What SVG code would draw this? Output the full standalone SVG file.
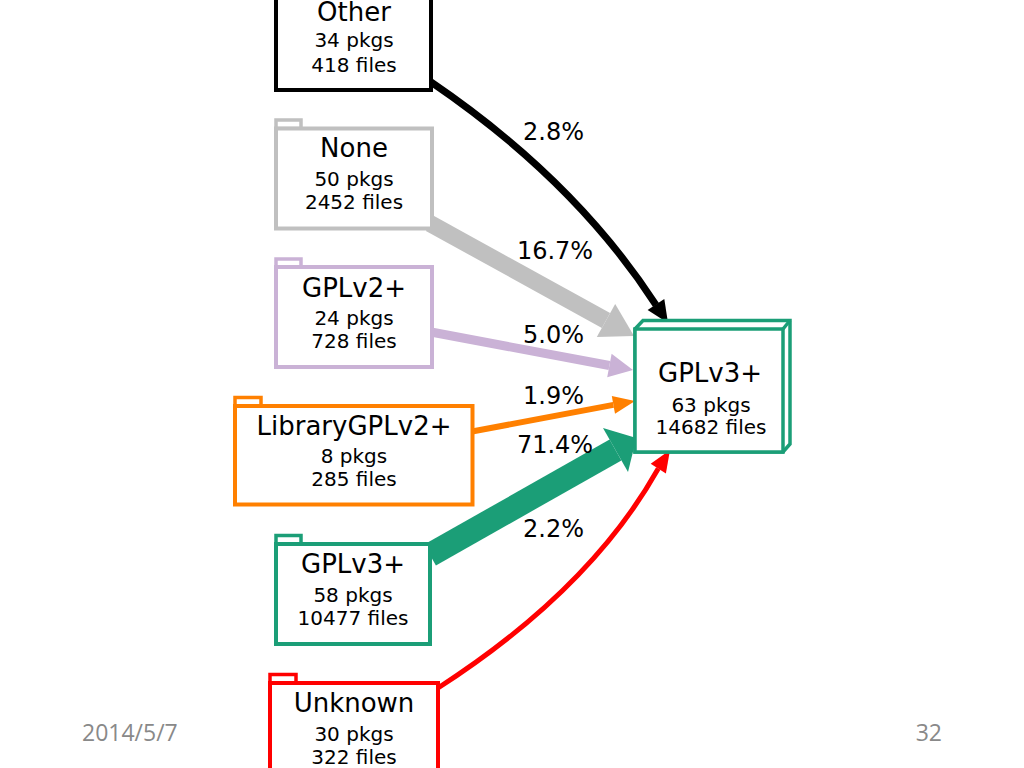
<svg xmlns="http://www.w3.org/2000/svg" width="1024" height="768" viewBox="0 0 1024 768">
<style>
  .box { fill: #ffffff; stroke-width: 4; }
  .tab { fill: #ffffff; stroke-width: 3.5; }
  .t1 { font-family: "DejaVu Sans", sans-serif; font-size: 26px; fill: #000; text-anchor: middle; }
  .t2 { font-family: "DejaVu Sans", sans-serif; font-size: 20px; fill: #000; text-anchor: middle; }
  .lbl { font-family: "DejaVu Sans", sans-serif; font-size: 24px; fill: #000; text-anchor: middle; }
  .foot { font-family: "Open Sans", "Liberation Sans", sans-serif; font-size: 23px; fill: #898989; }
  .e { fill: none; }
  .black { stroke: #000000; }
  .gray { stroke: #c0c0c0; }
  .lilac { stroke: #cab2d6; }
  .orange { stroke: #ff8000; }
  .green { stroke: #1b9e77; }
  .red { stroke: #ff0000; }
  .hblack { fill: #000000; }
  .hgray { fill: #c0c0c0; }
  .hlilac { fill: #cab2d6; }
  .horange { fill: #ff8000; }
  .hgreen { fill: #1b9e77; }
  .hred { fill: #ff0000; }
</style>
<rect width="1024" height="768" fill="#ffffff"/>

<g id="connectors">
  <path class="e black" stroke-width="7" d="M431,82 Q575,180 656,305"/>
  <polygon class="hblack" points="668,323 664.3,299.1 647.6,310.1"/>

  <path class="e gray" stroke-width="17" d="M430,223.5 L606,320.5"/>
  <polygon class="hgray" points="634,336 615.2,303.9 596.8,337.1"/>

  <path class="e lilac" stroke-width="9" d="M431,332 L609.4,365.5"/>
  <polygon class="hlilac" points="633,370 611.6,353.7 607.2,377.3"/>

  <path class="e orange" stroke-width="6" d="M472,431.5 L613.4,404.9"/>
  <polygon class="horange" points="635,401 615,413.8 611.8,396"/>

  <path class="e green" stroke-width="24" d="M430,555 L615.5,450"/>
  <polygon class="hgreen" points="636.4,438.1 603,428 628,472"/>

  <path class="e red" stroke-width="5" d="M438,688 Q590,590 658.3,468.6"/>
  <polygon class="hred" points="670,450 665.9,473.4 650.7,463.8"/>

  <text class="lbl" x="553.5" y="140">2.8%</text>
  <text class="lbl" x="555" y="259">16.7%</text>
  <text class="lbl" x="553.5" y="343">5.0%</text>
  <text class="lbl" x="553.5" y="404">1.9%</text>
  <text class="lbl" x="555" y="453">71.4%</text>
  <text class="lbl" x="553.5" y="537">2.2%</text>
</g>

<g id="node-other">
  <rect class="box" stroke="#000000" x="276" y="-10" width="155" height="100"/>
  <text class="t1" x="354" y="21">Other</text>
  <text class="t2" x="354" y="46.5">34 pkgs</text>
  <text class="t2" x="354" y="71.5">418 files</text>
</g>

<g id="node-none">
  <rect class="tab" stroke="#c0c0c0" x="276" y="120" width="25" height="8.5"/>
  <rect class="box" stroke="#c0c0c0" x="276" y="128.5" width="156" height="100"/>
  <text class="t1" x="354" y="157">None</text>
  <text class="t2" x="354" y="186">50 pkgs</text>
  <text class="t2" x="354" y="209">2452 files</text>
</g>

<g id="node-gplv2plus">
  <rect class="tab" stroke="#cab2d6" x="276" y="259" width="25" height="8"/>
  <rect class="box" stroke="#cab2d6" x="276" y="267" width="156" height="100"/>
  <text class="t1" x="354" y="297">GPLv2+</text>
  <text class="t2" x="354" y="325">24 pkgs</text>
  <text class="t2" x="354" y="347.5">728 files</text>
</g>

<g id="node-librarygplv2plus">
  <rect class="tab" stroke="#ff8000" x="235" y="397.5" width="26" height="8.5"/>
  <rect class="box" stroke="#ff8000" x="235" y="406" width="237.5" height="98.5"/>
  <text class="t1" x="354" y="435">LibraryGPLv2+</text>
  <text class="t2" x="354" y="462.5">8 pkgs</text>
  <text class="t2" x="354" y="486">285 files</text>
</g>

<g id="node-gplv3plus-src">
  <rect class="tab" stroke="#1b9e77" x="276" y="535.5" width="25" height="8.5"/>
  <rect class="box" stroke="#1b9e77" x="276" y="544" width="154" height="100"/>
  <text class="t1" x="353" y="573">GPLv3+</text>
  <text class="t2" x="353" y="602">58 pkgs</text>
  <text class="t2" x="353" y="625">10477 files</text>
</g>

<g id="node-unknown">
  <rect class="tab" stroke="#ff0000" x="270" y="674.5" width="26" height="8.5"/>
  <rect class="box" stroke="#ff0000" x="270" y="683" width="168" height="100"/>
  <text class="t1" x="354" y="712">Unknown</text>
  <text class="t2" x="354" y="741">30 pkgs</text>
  <text class="t2" x="354" y="764">322 files</text>
</g>

<g id="node-gplv3plus-target">
  <polygon fill="#ffffff" stroke="#1b9e77" stroke-width="3.5" stroke-linejoin="miter" points="635,329 643,320.5 790,320.5 790,444 783,452 635,452"/>
  <rect fill="#ffffff" stroke="#1b9e77" stroke-width="3.5" x="635" y="329" width="148" height="123"/>
  <line stroke="#1b9e77" stroke-width="3.5" x1="783" y1="329" x2="790" y2="320.5"/>
  <text class="t1" x="710" y="382">GPLv3+</text>
  <text class="t2" x="711" y="411.5">63 pkgs</text>
  <text class="t2" x="711" y="434">14682 files</text>
</g>

<g id="footer">
  <text class="foot" x="82" y="741">2014/5/7</text>
  <text class="foot" x="942" y="741" text-anchor="end">32</text>
</g>
</svg>
